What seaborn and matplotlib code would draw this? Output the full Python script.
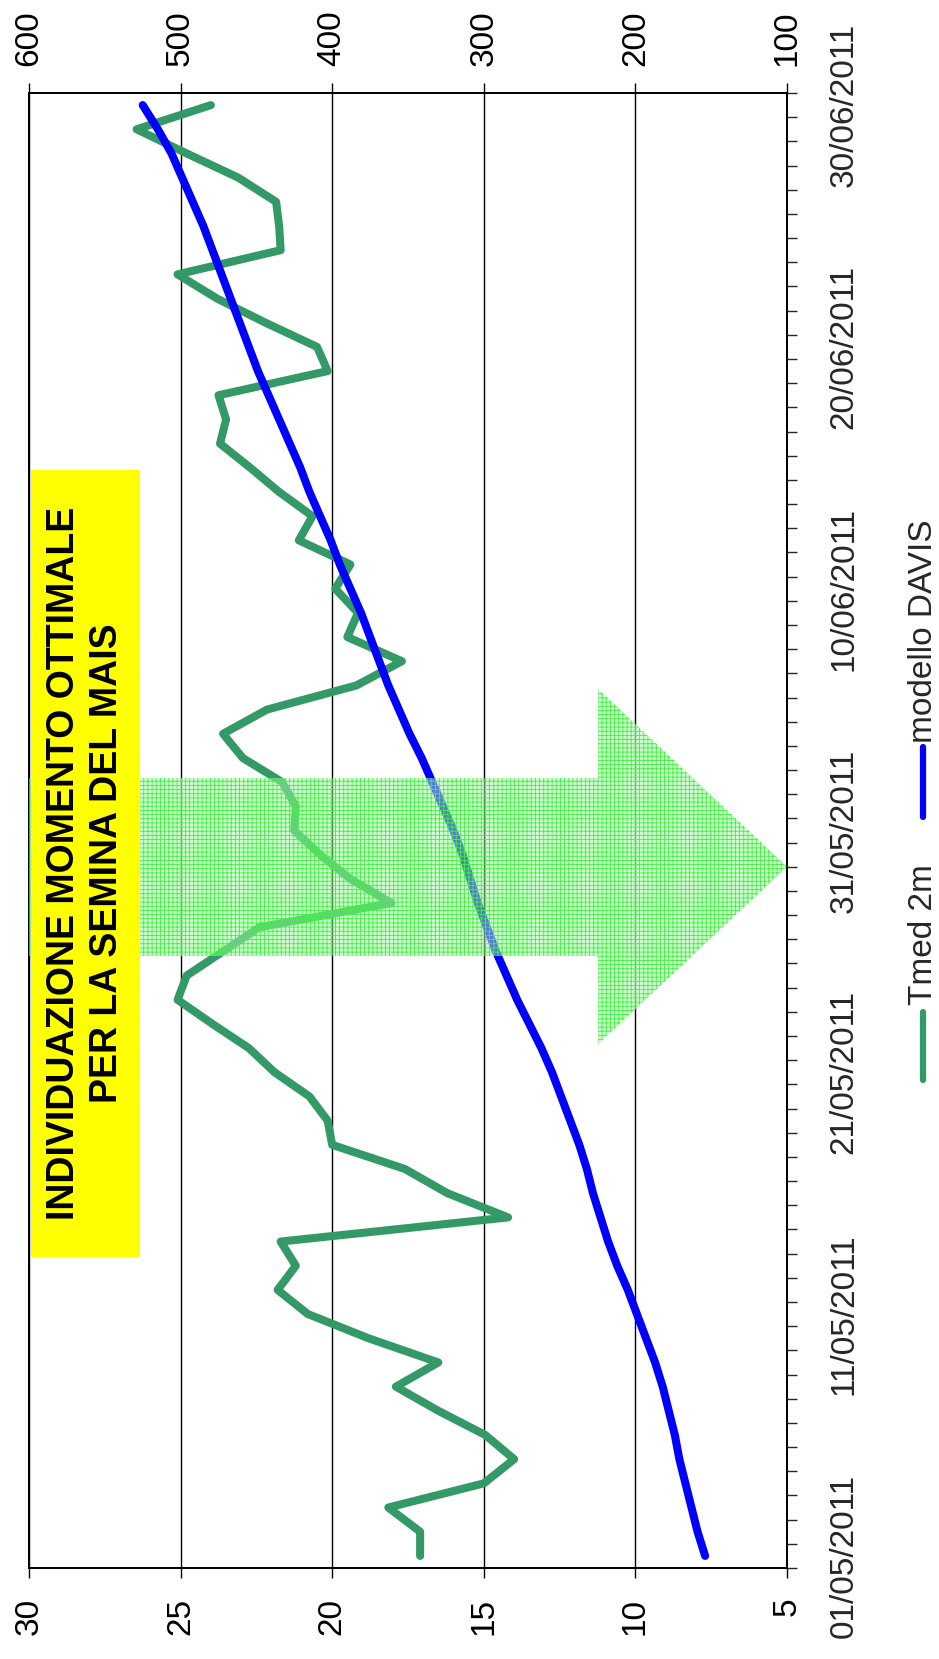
import numpy as np
import pandas as pd
import matplotlib
matplotlib.use("Agg")
import matplotlib.pyplot as plt
from matplotlib.patches import Polygon, Rectangle
from matplotlib.lines import Line2D
import seaborn as sns

# Daily values 01/05/2011 .. 30/06/2011
days = list(range(61))
tmed_2m = [17.1, 17.1, 18.15, 15.0, 14.0, 14.95, 16.5, 17.9, 16.5, 18.8,
           20.8, 21.8, 21.2, 21.7, 14.2, 16.2, 17.6, 20.0, 20.15, 20.75,
           21.9, 22.75, 23.95, 25.1, 24.8, 23.6, 22.4, 18.05, 19.4, 20.4,
           21.25, 21.2, 21.65, 22.95, 23.6, 22.15, 19.2, 17.7, 19.5, 19.15,
           19.9, 19.4, 21.1, 20.65, 21.75, 22.7, 23.7, 23.5, 23.75, 20.15,
           20.5, 22.2, 23.8, 25.1, 21.7, 21.75, 21.85, 23.1, 24.8, 26.45,
           24.0]
davis = [154, 159, 163, 167, 171, 174, 178, 182, 187, 193,
         199, 205, 212, 218, 223, 228, 232, 237, 243, 249,
         255, 262, 270, 278, 285, 292, 298, 304, 309, 314,
         320, 327, 334, 341, 349, 356, 363, 369, 375, 381,
         388, 395, 401, 408, 415, 421, 428, 435, 442, 449,
         455, 461, 467, 473, 479, 485, 492, 499, 506, 515,
         525]

date_ticks = [0, 10, 20, 30, 40, 50, 60]
date_labels = ["01/05/2011", "11/05/2011", "21/05/2011", "31/05/2011",
               "10/06/2011", "20/06/2011", "30/06/2011"]
temp_ticks = [30, 25, 20, 15, 10, 5]
davis_ticks = [600, 500, 400, 300, 200, 100]

GREEN = "#339966"
BLUE = "#0000FF"

sns.set_style("white")
plt.rcParams["font.family"] = ["Liberation Sans", "DejaVu Sans"]
plt.rcParams["hatch.linewidth"] = 0.6

df = pd.DataFrame({"day": days, "tmed": tmed_2m, "davis": davis})

fig = plt.figure(figsize=(9.39, 16.59), dpi=100)
ax = fig.add_axes([29 / 939, 1 - 1568 / 1659, 758 / 939, 1475 / 1659])
ax2 = ax.twiny()

sns.lineplot(data=df, x="tmed", y="day", sort=False, estimator=None,
             color=GREEN, linewidth=5.8, ax=ax, legend=False)
sns.lineplot(data=df, x="davis", y="day", sort=False, estimator=None,
             color=BLUE, linewidth=5.8, ax=ax2, legend=False)

# primary axis (temperature) at bottom, reversed
ax.set_xlim(30, 5)
ax.set_xticks(temp_ticks)
ax.set_xticklabels([str(t) for t in temp_ticks])
ax.tick_params(axis="x", direction="out", length=7.5, width=1, labelsize=24,
               labelrotation=90, pad=14, bottom=True, colors="black")
ax.xaxis.grid(True, color="black", linewidth=1.0)
ax.set_axisbelow(True)

# date axis on the right
ax.set_ylim(-0.5, 60.5)
ax.yaxis.tick_right()
ax.set_yticks(date_ticks)
ax.set_yticklabels(date_labels)
ax.set_yticks(np.arange(-0.5, 61, 1), minor=True)
ax.tick_params(axis="y", which="major", length=0, labelsize=24,
               labelrotation=90, pad=30)
ax.tick_params(axis="y", which="minor", direction="out", length=7.5, width=1,
               right=True, left=False)
for lab in ax.get_yticklabels():
    lab.set_va("center")

# secondary axis (DAVIS model) at top, reversed
ax2.set_xlim(600, 100)
ax2.set_xticks(davis_ticks)
ax2.set_xticklabels([str(t) for t in davis_ticks])
ax2.tick_params(axis="x", direction="out", length=7.5, width=1, labelsize=24,
                labelrotation=90, pad=12, top=True, colors="black")

ax.set_xlabel("")
ax.set_ylabel("")
ax2.set_xlabel("")
ax2.set_ylabel("")
for a in (ax, ax2):
    for sp in a.spines.values():
        sp.set_visible(True)
        sp.set_color("black")
        sp.set_linewidth(1.3)

# green arrow pointing to the sowing date
arrow = Polygon([(30, 24.81), (11.23, 24.81), (11.23, 21.17), (5, 28.5),
                 (11.23, 35.85), (11.23, 32.17), (30, 32.17)],
                closed=True, transform=ax.transData,
                facecolor=(0.62, 1.0, 0.62, 0.5), edgecolor="#44ee44",
                hatch="++++", linewidth=0, zorder=5)
ax2.add_patch(arrow)

# yellow text box
box = Rectangle((29.93, 12.36), 26.34 - 29.93, 44.91 - 12.36,
                transform=ax.transData, facecolor="#FFFF00",
                edgecolor="none", zorder=6)
ax2.add_patch(box)
ax2.text(28.85, 28.66, "INDIVIDUAZIONE MOMENTO OTTIMALE",
         transform=ax.transData, rotation=90, ha="center", va="center",
         fontsize=27, fontweight="bold", color="black", zorder=7)
ax2.text(27.43, 28.66, "PER LA SEMINA DEL MAIS",
         transform=ax.transData, rotation=90, ha="center", va="center",
         fontsize=27, fontweight="bold", color="black", zorder=7)

# legend, drawn rotated like the rest of the chart
fig.add_artist(Line2D([922.5 / 939, 922.5 / 939], [1 - 1080 / 1659, 1 - 1012 / 1659],
                      color=GREEN, linewidth=4.5, solid_capstyle="round"))
fig.text(923.5 / 939, 1 - 1005 / 1659, "Tmed 2m", rotation=90,
         ha="center", va="bottom", fontsize=24)
fig.add_artist(Line2D([922.5 / 939, 922.5 / 939], [1 - 817 / 1659, 1 - 747 / 1659],
                      color=BLUE, linewidth=4.5, solid_capstyle="round"))
fig.text(923.5 / 939, 1 - 743 / 1659, "modello DAVIS", rotation=90,
         ha="center", va="bottom", fontsize=24)

fig.savefig("out.png", dpi=100, facecolor="white")
